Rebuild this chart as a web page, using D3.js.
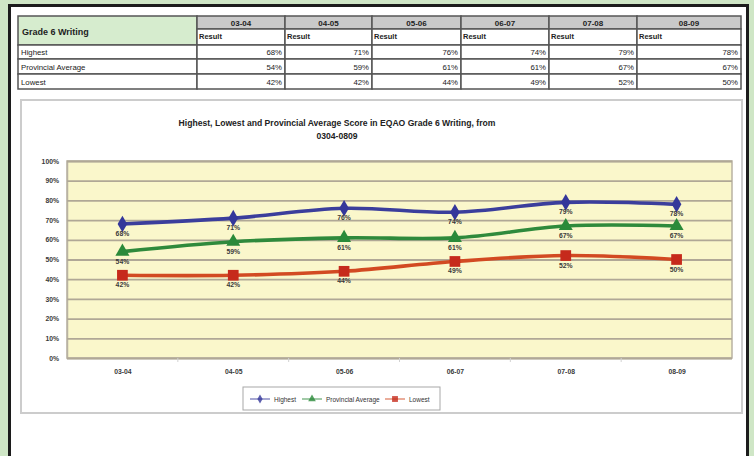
<!DOCTYPE html>
<html>
<head>
<meta charset="utf-8">
<script src="https://cdn.jsdelivr.net/npm/d3@7/dist/d3.min.js"></script>
<style>
  html, body { margin: 0; padding: 0; background: #cfe6c6; }
  svg { display: block; font-family: "Liberation Sans", Arial, sans-serif; }
</style>
</head>
<body>
<svg id="chart" width="754" height="456"></svg>
<script>
// School years reported
const categories = ["03-04", "04-05", "05-06", "06-07", "07-08", "08-09"];
// Percentage of students at or above the provincial standard
const highest = [68, 71, 76, 74, 79, 78];
const provincialAverage = [54, 59, 61, 61, 67, 67];
const lowest = [42, 42, 44, 49, 52, 50];
const rowNames = ["Highest", "Provincial Average", "Lowest"];
const yTicks = [0, 10, 20, 30, 40, 50, 60, 70, 80, 90, 100];

const series = [
  { name: "Highest", values: highest, line: "#3b3e9c", mark: "#34379a", shape: d3.symbolDiamond, size: 80 },
  { name: "Provincial Average", values: provincialAverage, line: "#2f8a3c", mark: "#2a8a3a", shape: d3.symbolTriangle, size: 85 },
  { name: "Lowest", values: lowest, line: "#d24a22", mark: "#c62a1c", shape: d3.symbolSquare, size: 115 }
];

const svg = d3.select("#chart");

// page background and framed panel
svg.append("rect").attr("width", 754).attr("height", 456).attr("fill", "#cfe6c6");
svg.append("rect").attr("x", 9.5).attr("y", 5.5).attr("width", 738).attr("height", 470)
  .attr("fill", "#ffffff").attr("stroke", "#1c1c1c").attr("stroke-width", 3);

// ---------- summary table ----------
const tbl = svg.append("g");
const colEdges = [18, 197, 285, 372, 461, 549, 637, 741];
const rowEdges = [16, 29, 45, 59, 74, 89];
const fmtPct = v => v + "%";
const rows = [highest, provincialAverage, lowest];

// title cell
tbl.append("rect").attr("x", colEdges[0]).attr("y", rowEdges[0])
  .attr("width", colEdges[1] - colEdges[0]).attr("height", rowEdges[2] - rowEdges[0])
  .attr("fill", "#d6ecce").attr("stroke", "#555").attr("stroke-width", 1.5);
tbl.append("text").attr("x", colEdges[0] + 4).attr("y", rowEdges[0] + 19)
  .attr("font-size", 9).attr("font-weight", "bold").attr("fill", "#222").text("Grade 6 Writing");

categories.forEach((c, i) => {
  const x0 = colEdges[i + 1], x1 = colEdges[i + 2];
  tbl.append("rect").attr("x", x0).attr("y", rowEdges[0]).attr("width", x1 - x0)
    .attr("height", rowEdges[1] - rowEdges[0]).attr("fill", "#c9c9c9").attr("stroke", "#555").attr("stroke-width", 1.5);
  tbl.append("text").attr("x", (x0 + x1) / 2).attr("y", rowEdges[0] + 9.5).attr("text-anchor", "middle")
    .attr("font-size", 8).attr("font-weight", "bold").attr("fill", "#222").text(c);
  tbl.append("rect").attr("x", x0).attr("y", rowEdges[1]).attr("width", x1 - x0)
    .attr("height", rowEdges[2] - rowEdges[1]).attr("fill", "#fff").attr("stroke", "#555").attr("stroke-width", 1.5);
  tbl.append("text").attr("x", x0 + 2).attr("y", rowEdges[1] + 10)
    .attr("font-size", 7.5).attr("font-weight", "bold").attr("fill", "#222").text("Result");
});

rows.forEach((vals, r) => {
  const y0 = rowEdges[r + 2], y1 = rowEdges[r + 3];
  tbl.append("rect").attr("x", colEdges[0]).attr("y", y0).attr("width", colEdges[1] - colEdges[0])
    .attr("height", y1 - y0).attr("fill", "#fff").attr("stroke", "#555").attr("stroke-width", 1.5);
  tbl.append("text").attr("x", colEdges[0] + 3).attr("y", (y0 + y1) / 2 + 3)
    .attr("font-size", 7.8).attr("fill", "#222").text(rowNames[r]);
  vals.forEach((v, i) => {
    const x0 = colEdges[i + 1], x1 = colEdges[i + 2];
    tbl.append("rect").attr("x", x0).attr("y", y0).attr("width", x1 - x0).attr("height", y1 - y0)
      .attr("fill", "#fff").attr("stroke", "#555").attr("stroke-width", 1.5);
    tbl.append("text").attr("x", x1 - 3).attr("y", (y0 + y1) / 2 + 3).attr("text-anchor", "end")
      .attr("font-size", 7.8).attr("fill", "#222").text(fmtPct(v));
  });
});

// ---------- chart ----------
svg.append("rect").attr("x", 21).attr("y", 100).attr("width", 721).attr("height", 313)
  .attr("fill", "#fff").attr("stroke", "#cccccc").attr("stroke-width", 2);

const title = svg.append("text").attr("text-anchor", "middle").attr("font-size", 8.6)
  .attr("font-weight", "bold").attr("fill", "#222");
title.append("tspan").attr("x", 337).attr("y", 126)
  .text("Highest, Lowest and Provincial Average Score in EQAO Grade 6 Writing, from");
title.append("tspan").attr("x", 337).attr("y", 139).text("0304-0809");

const plot = { left: 67, right: 732, top: 161, bottom: 358 };
const x = d3.scalePoint().domain(categories).range([plot.left, plot.right]).padding(0.5);
const y = d3.scaleLinear().domain([0, 100]).range([plot.bottom, plot.top]);

svg.append("rect").attr("x", plot.left).attr("y", plot.top)
  .attr("width", plot.right - plot.left).attr("height", plot.bottom - plot.top)
  .attr("fill", "#faf7cb").attr("stroke", "#b9b2a2").attr("stroke-width", 1.5);

// horizontal gridlines
const yAxis = svg.append("g").attr("transform", `translate(${plot.left},0)`)
  .call(d3.axisLeft(y).tickValues(yTicks).tickFormat(d => d + "%")
    .tickSize(-(plot.right - plot.left)).tickPadding(8));
yAxis.select(".domain").attr("stroke", "#b9b2a2").attr("stroke-width", 1.5);
yAxis.selectAll(".tick line").attr("stroke", "#b0a896").attr("stroke-width", 1.8);
yAxis.selectAll(".tick text").attr("font-size", 6.8).attr("font-weight", "bold")
  .attr("fill", "#3a3a3a").attr("font-family", "Liberation Sans, Arial, sans-serif");

// category axis
const xAxis = svg.append("g").attr("transform", `translate(0,${plot.bottom})`)
  .call(d3.axisBottom(x).tickSize(0).tickPadding(11));
xAxis.select(".domain").remove();
xAxis.selectAll(".tick text").attr("font-size", 6.8).attr("font-weight", "bold")
  .attr("fill", "#3a3a3a").attr("font-family", "Liberation Sans, Arial, sans-serif");
// faint dividers between categories
svg.append("g").selectAll("line").data(categories.slice(1)).join("line")
  .attr("x1", d => x(d) - x.step() / 2).attr("x2", d => x(d) - x.step() / 2)
  .attr("y1", plot.bottom).attr("y2", plot.bottom + 4)
  .attr("stroke", "#d2d2d2").attr("stroke-width", 1);

const line = d3.line().x((d, i) => x(categories[i])).y(d => y(d)).curve(d3.curveCatmullRom.alpha(0.5));

series.forEach(s => {
  const g = svg.append("g");
  g.append("path").attr("d", line(s.values)).attr("fill", "none")
    .attr("stroke", s.line).attr("stroke-width", 3.6).attr("stroke-linejoin", "round");
  g.selectAll("path.m").data(s.values).join("path").attr("class", "m")
    .attr("d", d3.symbol().type(s.shape).size(s.size))
    .attr("transform", (d, i) => `translate(${x(categories[i])},${y(d)})`)
    .attr("fill", s.mark);
  g.selectAll("text").data(s.values).join("text")
    .attr("x", (d, i) => x(categories[i])).attr("y", d => y(d) + 12)
    .attr("text-anchor", "middle").attr("font-size", 6.8).attr("font-weight", "bold")
    .attr("fill", "#3a3a3a").text(d => d + "%");
});

// legend
const legend = svg.append("g");
legend.append("rect").attr("x", 243).attr("y", 387).attr("width", 197).attr("height", 23)
  .attr("fill", "#fff").attr("stroke", "#a8a8a8").attr("stroke-width", 1);
const legendX = [250, 302, 385];
series.forEach((s, i) => {
  const lx = legendX[i], ly = 399;
  legend.append("line").attr("x1", lx).attr("x2", lx + 20).attr("y1", ly).attr("y2", ly)
    .attr("stroke", s.line).attr("stroke-width", 1.5).attr("opacity", 0.6);
  legend.append("path").attr("d", d3.symbol().type(s.shape).size(s.size * 0.3))
    .attr("transform", `translate(${lx + 10},${ly})`).attr("fill", s.mark).attr("opacity", 0.8);
  legend.append("text").attr("x", lx + 24).attr("y", ly + 2.5).attr("font-size", 6.5)
    .attr("fill", "#333").text(s.name);
});
</script>
</body>
</html>
